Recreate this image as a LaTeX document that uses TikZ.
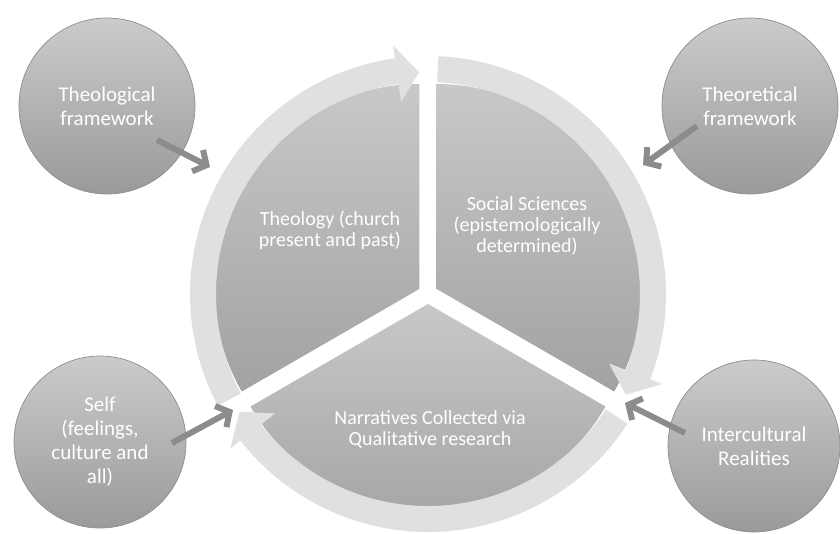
\documentclass[tikz,border=0pt]{standalone}
\usepackage{fontspec}
\setmainfont{Carlito}
\usetikzlibrary{arrows.meta}
\definecolor{sectop}{HTML}{C8C8C8}
\definecolor{secbot}{HTML}{A2A2A2}
\definecolor{circtop}{HTML}{CBCBCB}
\definecolor{circbot}{HTML}{9A9A9A}
\definecolor{circline}{HTML}{8E8E8E}
\definecolor{ringgray}{HTML}{E0E0E0}
\definecolor{feedgray}{HTML}{8C8C8C}
\begin{document}
\begin{tikzpicture}[x=1pt,y=1pt,
  sector/.style={top color=sectop, bottom color=secbot, draw=none},
  band/.style={fill=ringgray, draw=none},
  satellite/.style={circle, top color=circtop, bottom color=circbot,
    draw=circline, line width=0.7pt, text=white, align=center,
    font=\fontsize{21}{24}\selectfont, inner sep=0pt},
  secttext/.style={text=white, align=center, font=\fontsize{20}{21}\selectfont},
  feed/.style={draw=feedgray, line width=6pt,
    -{Straight Barb[length=10pt,width=24pt]}}
]
\useasboundingbox (0,0) rectangle (840,533);
\coordinate (C) at (428,239);

% the three pie segments, pulled slightly apart
\begin{scope}[shift={(C)}]
  \shade[sector] (150:10) -- ++(90:205) arc[start angle=90, end angle=210, radius=205] -- cycle;
  \shade[sector] (30:10) -- ++(-30:205) arc[start angle=-30, end angle=90, radius=205] -- cycle;
  \shade[sector] (270:10) -- ++(210:205) arc[start angle=210, end angle=330, radius=205] -- cycle;

  % curved arrows running clockwise round the pie
  \fill[band] (208:238) arc[start angle=208, end angle=98, radius=238]
    -- (98:251) -- (92.3:222) -- (98:194) -- (98:212)
    arc[start angle=98, end angle=208, radius=212] -- cycle;
  \fill[band] (87.5:238) arc[start angle=87.5, end angle=-21, radius=238]
    -- (-21:251) -- (-27:222) -- (-21:194) -- (-21:212)
    arc[start angle=-21, end angle=87.5, radius=212] -- cycle;
  \fill[band] (-33:238) arc[start angle=-33, end angle=-142, radius=238]
    -- (-142:251) -- (-148:222) -- (-142:194) -- (-142:212)
    arc[start angle=-142, end angle=-33, radius=212] -- cycle;
\end{scope}

% segment labels
\node[secttext] (ttheology) at (330,303) {Theology (church\\present and past)};
\node[secttext] (tsocial) at (527,307) {Social Sciences\\(epistemologically\\determined)};
\node[secttext] (tnarr) at (430,104) {Narratives Collected via\\Qualitative research};

% surrounding influences
\node[satellite, minimum size=176pt] (theo) at (107,427) {Theological\\framework};
\node[satellite, minimum size=176pt] (theor) at (750,427) {Theoretical\\framework};
\node[satellite, minimum size=172pt] (self) at (100,91) {Self\\(feelings,\\culture and\\all)};
\node[satellite, minimum size=172pt] (inter) at (754,87) {Intercultural\\Realities};

% short arrows feeding into the cycle
\coordinate (theoS) at (157,393);  \coordinate (theoE) at (210,366);
\coordinate (theorS) at (697,407); \coordinate (theorE) at (643,368);
\coordinate (selfS) at (172,90);   \coordinate (selfE) at (233,123);
\coordinate (interS) at (685,100); \coordinate (interE) at (625,130);
\draw[feed] (theoS) -- (theoE);
\draw[feed] (theorS) -- (theorE);
\draw[feed] (selfS) -- (selfE);
\draw[feed] (interS) -- (interE);
\end{tikzpicture}
\end{document}
